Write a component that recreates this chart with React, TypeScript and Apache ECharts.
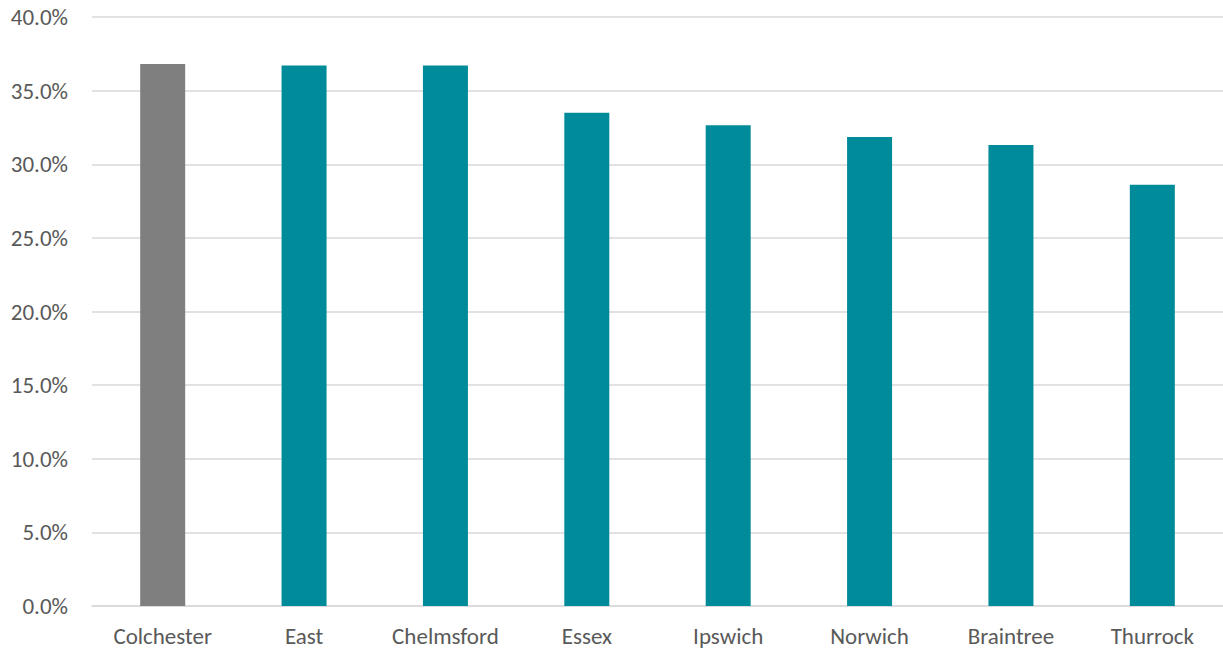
import React, { useEffect, useRef } from "react";
import * as echarts from "echarts";

const categories = ["Colchester", "East", "Chelmsford", "Essex", "Ipswich", "Norwich", "Braintree", "Thurrock"];
const values = [36.8, 36.7, 36.7, 33.5, 32.65, 31.85, 31.3, 28.6];
const highlightCategory = "Colchester";
const highlightColor = "#7f7f7f";
const baseColor = "#008b9a";

export default function App() {
  const ref = useRef<HTMLDivElement>(null);

  useEffect(() => {
    if (!ref.current) return;
    const chart = echarts.init(ref.current, null, { renderer: "svg" });
    const font = "Carlito, Calibri, 'Open Sans', 'Noto Sans', sans-serif";
    chart.setOption({
      animation: false,
      backgroundColor: "#ffffff",
      grid: { left: 92, right: 0, top: 17, bottom: 46 },
      xAxis: {
        type: "category",
        data: categories,
        axisLine: { show: true, lineStyle: { color: "#d9d9d9", width: 1.5 } },
        axisTick: { show: false },
        axisLabel: { color: "#595959", fontSize: 23, fontFamily: font, margin: 18, interval: 0 },
      },
      yAxis: {
        type: "value",
        min: 0,
        max: 40,
        interval: 5,
        axisLine: { show: false },
        axisTick: { show: false },
        splitLine: { lineStyle: { color: "#d9d9d9", width: 1.5 } },
        axisLabel: {
          color: "#595959",
          fontSize: 23,
          fontFamily: font,
          margin: 24,
          formatter: (v: number) => v.toFixed(1) + "%",
        },
      },
      series: [
        {
          type: "bar",
          barWidth: 45,
          data: values.map((v, i) => ({
            value: v,
            itemStyle: { color: categories[i] === highlightCategory ? highlightColor : baseColor },
          })),
        },
      ],
    });
    return () => chart.dispose();
  }, []);

  return (
    <div
      ref={ref}
      style={{ position: "absolute", left: 0, top: 0, width: 1223, height: 652, background: "#fff" }}
    />
  );
}
